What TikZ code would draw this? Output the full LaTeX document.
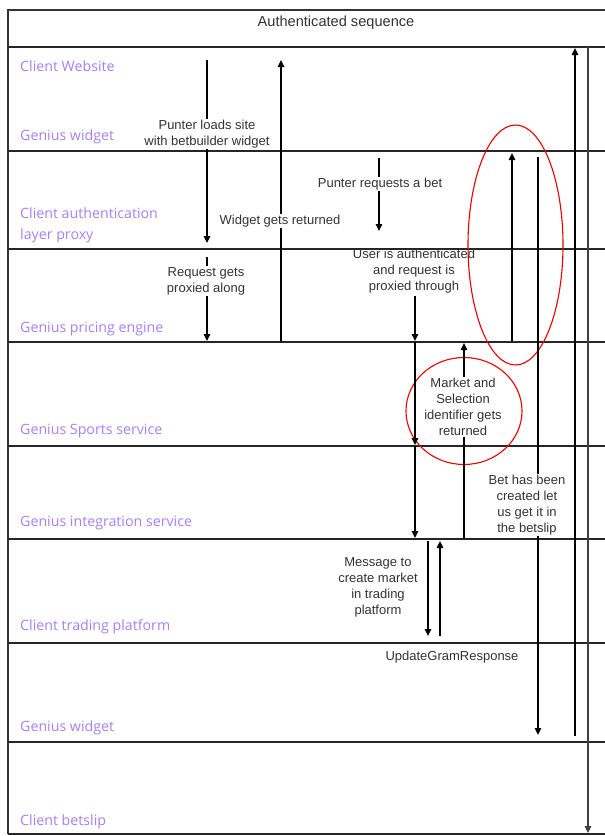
\documentclass[tikz,border=0pt]{standalone}
\usepackage{fontspec}
\setmainfont{Liberation Sans}
\newfontfamily\lanefont{Open Sans}
\usetikzlibrary{arrows.meta,shapes.geometric}
\definecolor{lanepurple}{HTML}{A282F7}
\definecolor{msggray}{HTML}{333333}
\begin{document}
\begin{tikzpicture}[x=1pt,y=-1pt,
  laneline/.style={line width=1.8pt,black!85},
  frameline/.style={line width=1.4pt,black!80},
  lanelabel/.style={anchor=west,inner sep=0pt,text=lanepurple,font=\lanefont\fontsize{14.2}{21}\selectfont,align=left},
  msg/.style={text=msggray,font=\fontsize{13}{16}\selectfont,align=center,inner sep=1pt},
  msgfill/.style={msg,fill=white},
  arr/.style={line width=1.1pt,black,-{Triangle[length=7pt,width=6.5pt]}},
  redring/.style={draw=red!90!black,line width=1.1pt}]
\useasboundingbox (0,0) rectangle (605,836);
\fill[white] (0,0) rectangle (605,836);

% frame and lane separators
\coordinate (TL) at (8,10);
\coordinate (TR) at (605,10);
\coordinate (BL) at (8,834);
\draw[frameline] (TR) -- (TL) -- (BL);
\foreach \y [count=\i] in {47,151,249,342,446,539,643,742,834}{
  \coordinate (S\i w) at (8,\y);
  \coordinate (S\i e) at (605,\y);
  \draw[laneline] (S\i w) -- (S\i e);
}
\node[font=\fontsize{14.6}{16}\selectfont,text=msggray] (title) at (336,23) {Authenticated sequence};

% lane labels
\node[lanelabel] (l1) at (20,66) {Client Website};
\node[lanelabel] (l2) at (20,137) {Genius widget};
\node[lanelabel] (l3) at (20,225.5) {Client authentication\\layer proxy};
\node[lanelabel] (l4) at (20,329) {Genius pricing engine};
\node[lanelabel] (l5) at (20,431) {Genius Sports service};
\node[lanelabel] (l6) at (20,523) {Genius integration service};
\node[lanelabel] (l7) at (20,627) {Client trading platform};
\node[lanelabel] (l8) at (20,728) {Genius widget};
\node[lanelabel] (l9) at (20,822) {Client betslip};

% red ellipses
\node[redring,ellipse,minimum width=95pt,minimum height=240pt] (ring1) at (515.5,245) {};
\node[redring,ellipse,minimum width=116pt,minimum height=107pt] (ring2) at (464,411) {};

% arrows
\coordinate (a1s) at (207,60);   \coordinate (a1e) at (207,243);
\coordinate (a2s) at (207,257);  \coordinate (a2e) at (207,341);
\coordinate (a3s) at (281,342);  \coordinate (a3e) at (281,60);
\coordinate (a4s) at (379,158);  \coordinate (a4e) at (379,231);
\coordinate (a5s) at (415,296);  \coordinate (a5e) at (415,341);
\coordinate (a6s) at (415,342);  \coordinate (a6e) at (415,445);
\coordinate (a7s) at (415,446);  \coordinate (a7e) at (415,538);
\coordinate (a8s) at (464,539);  \coordinate (a8e) at (464,343);
\coordinate (a9s) at (428,541);  \coordinate (a9e) at (428,636);
\coordinate (a10s) at (440,636); \coordinate (a10e) at (440,541);
\coordinate (a11s) at (538,157); \coordinate (a11e) at (538,735);
\coordinate (a12s) at (512,342); \coordinate (a12e) at (512,153);
\coordinate (a13s) at (575,736); \coordinate (a13e) at (575,48);
\coordinate (a14s) at (588,47);  \coordinate (a14e) at (588,833);

\foreach \a in {a1,a2,a3,a4,a5,a6,a7,a8,a9,a10,a11,a12,a13}{
  \draw[arr] (\a s) -- (\a e);
}
\draw[arr,black!75] (a14s) -- (a14e);

% message labels
\node[msgfill] (m1) at (207,134) {Punter loads site\\with betbuilder widget};
\node[msgfill] (m2) at (206,281) {Request gets\\proxied along};
\node[msgfill] (m3) at (280,221) {Widget gets returned};
\node[msgfill] (m4) at (380,184) {Punter requests a bet};
\node[msg] (m5) at (414,271) {User is authenticated\\and request is\\proxied through};
\node[msgfill] (m6) at (463,407) {Market and\\Selection\\identifier gets\\returned};
\node[msgfill] (m7) at (378,587) {Message to\\create market\\in trading\\platform};
\node[msg] (m8) at (452,657) {UpdateGramResponse};
\node[msgfill] (m9) at (527,505) {Bet has been\\created let\\us get it in\\the betslip};
\end{tikzpicture}
\end{document}
